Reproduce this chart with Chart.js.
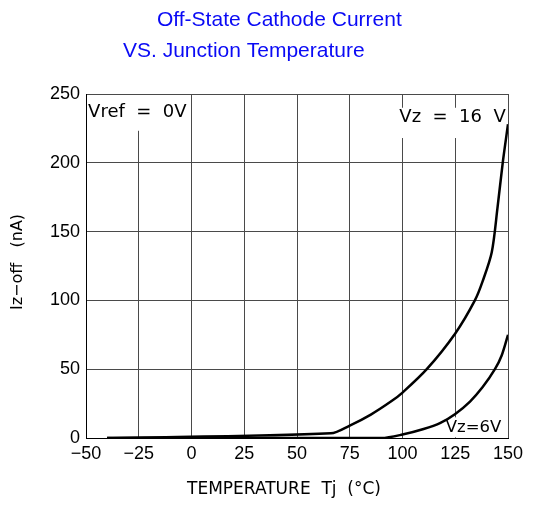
<!DOCTYPE html>
<html>
<head>
<meta charset="utf-8">
<script src="https://cdn.jsdelivr.net/npm/chart.js@4"></script>
<style>
  html, body { margin: 0; padding: 0; background: #fff; }
  #wrap { width: 535px; height: 506px; }
</style>
</head>
<body>
<div id="wrap"><canvas id="chart" width="535" height="506"></canvas></div>
<script>
// readings off the curve sheet, Tj in C, current in nA
const tempVz16 = [-40, 66, 75, 85, 95, 100, 111.5, 125, 134.3, 138, 142.3, 145, 147.5, 150];
const currVz16 = [0, 3.4, 9, 17, 27, 33, 50, 76, 100, 114, 135, 167, 200, 228];

const tempVz6 = [-40, 90, 100, 110, 118, 125, 132, 138, 143.8, 147, 150];
const currVz6 = [0, 0, 2.5, 6.5, 11, 17.5, 26.5, 37, 50, 60, 75];

const xTicks = [-50, -25, 0, 25, 50, 75, 100, 125, 150];
const yTicks = [0, 50, 100, 150, 200, 250];

const toPoints = (xs, ys) => xs.map((x, i) => ({ x: x, y: ys[i] }));

// white boxes behind the notes, then the notes themselves
const notesPlugin = {
    id: "notes",
    beforeDatasetsDraw(chart) {
        const ctx = chart.ctx;
        const x = chart.scales.x;
        const y = chart.scales.y;
        ctx.save();
        ctx.fillStyle = "#fff";
        // Vref = 0V, top left corner
        ctx.fillRect(x.getPixelForValue(-50) + 1, y.getPixelForValue(250) + 1,
            x.getPixelForValue(-1) - x.getPixelForValue(-50) - 1, y.getPixelForValue(224) - y.getPixelForValue(250));
        // Vz = 16 V
        ctx.fillRect(x.getPixelForValue(97), y.getPixelForValue(240),
            x.getPixelForValue(149.5) - x.getPixelForValue(97), y.getPixelForValue(218) - y.getPixelForValue(240));
        // Vz=6V
        ctx.fillRect(x.getPixelForValue(116), y.getPixelForValue(15),
            x.getPixelForValue(149.5) - x.getPixelForValue(116), y.getPixelForValue(0.5) - y.getPixelForValue(15));

        ctx.fillStyle = "#000";
        ctx.textBaseline = "middle";
        ctx.textAlign = "left";
        ctx.font = "18px 'DejaVu Sans'";
        ctx.fillText("Vref  =  0V", x.getPixelForValue(-49), y.getPixelForValue(237));
        ctx.fillText("Vz  =  16  V", x.getPixelForValue(98.5), y.getPixelForValue(233));
        ctx.font = "16.5px 'DejaVu Sans'";
        ctx.fillText("Vz=6V", x.getPixelForValue(120.5), y.getPixelForValue(7.5));
        ctx.restore();
    },
    afterDraw(chart) {
        const ctx = chart.ctx;
        ctx.save();
        ctx.fillStyle = "#0a0af5";
        ctx.font = "21px 'Liberation Sans'";
        ctx.textBaseline = "alphabetic";
        ctx.textAlign = "left";
        ctx.fillText("Off-State Cathode Current", 157, 26);
        ctx.fillText("VS. Junction Temperature", 123, 57);

        ctx.fillStyle = "#000";
        ctx.font = "17px 'DejaVu Sans'";
        ctx.textAlign = "center";
        ctx.fillText("TEMPERATURE  Tj  (\u00b0C)", 284, 494);
        ctx.font = "16px 'DejaVu Sans'";
        ctx.translate(22, 262);
        ctx.rotate(-Math.PI / 2);
        ctx.fillText("Iz\u2212off   (nA)", 0, 0);
        ctx.restore();
    }
};

const ctx = document.getElementById("chart").getContext("2d");
new Chart(ctx, {
    type: "line",
    data: {
        datasets: [{
            label: "Vz = 16 V",
            data: toPoints(tempVz16, currVz16),
            borderColor: "#000",
            borderWidth: 2.5,
            pointRadius: 0,
            tension: 0.3,
            fill: false
        }, {
            label: "Vz = 6 V",
            data: toPoints(tempVz6, currVz6),
            borderColor: "#000",
            borderWidth: 2.5,
            pointRadius: 0,
            tension: 0.3,
            fill: false
        }]
    },
    options: {
        responsive: false,
        animation: false,
        layout: { padding: { top: 94, right: 27, bottom: 0, left: 0 } },
        plugins: {
            legend: { display: false },
            tooltip: { enabled: false }
        },
        scales: {
            x: {
                type: "linear",
                min: -50,
                max: 150,
                afterBuildTicks: (axis) => { axis.ticks = xTicks.map(v => ({ value: v })); },
                afterFit: (axis) => { axis.height = 68; },
                grid: { color: "#4a4a4a", lineWidth: 1, drawTicks: false },
                border: { color: "#000", width: 1 },
                ticks: {
                    padding: 5,
                    color: "#000",
                    font: { family: "'Liberation Sans'", size: 18 },
                    callback: (v) => String(v).replace("-", "\u2212")
                }
            },
            y: {
                min: 0,
                max: 250,
                afterBuildTicks: (axis) => { axis.ticks = yTicks.map(v => ({ value: v })); },
                afterFit: (axis) => { axis.width = 86; },
                grid: { color: "#4a4a4a", lineWidth: 1, drawTicks: false },
                border: { color: "#000", width: 1 },
                ticks: {
                    padding: 6,
                    color: "#000",
                    font: { family: "'Liberation Sans'", size: 18 }
                }
            }
        }
    },
    plugins: [notesPlugin]
});
</script>
</body>
</html>
